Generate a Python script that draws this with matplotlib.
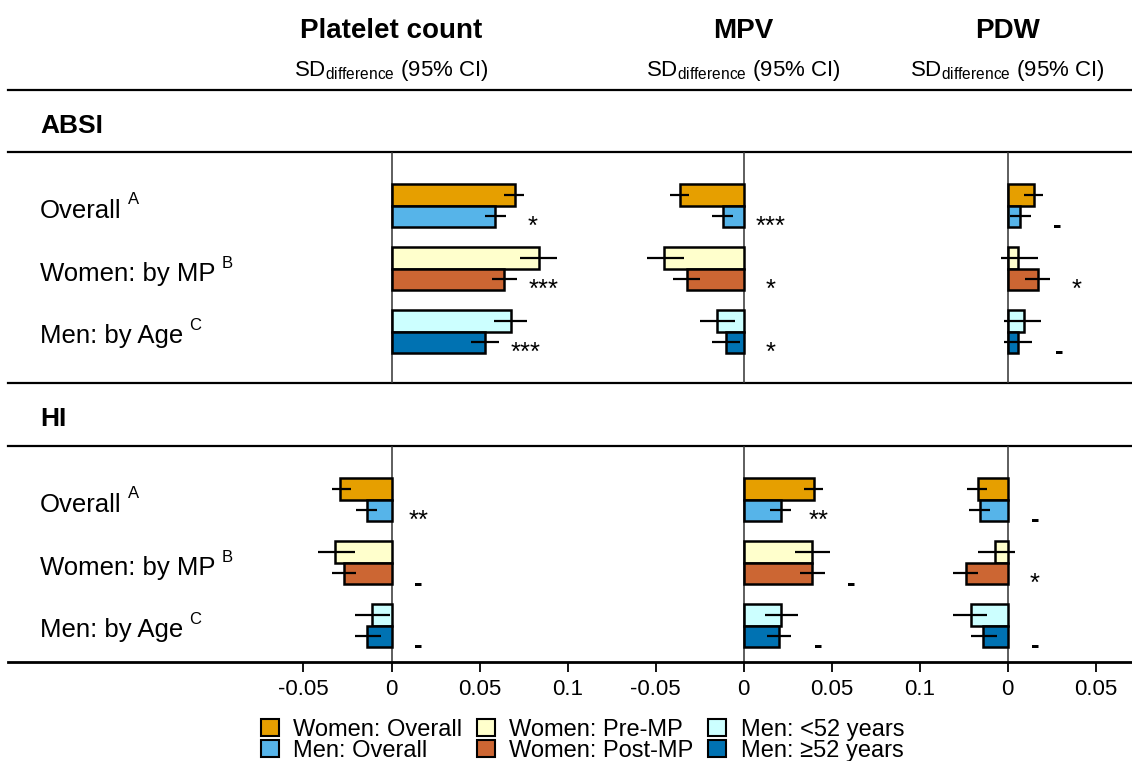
import numpy as np
import matplotlib
matplotlib.use('Agg')
import matplotlib.pyplot as plt
import matplotlib.transforms as mtransforms
from matplotlib.patches import Patch

plt.rcParams['font.family'] = ['Liberation Sans', 'DejaVu Sans']
plt.rcParams['mathtext.fontset'] = 'custom'
plt.rcParams['mathtext.rm'] = 'Liberation Sans'
plt.rcParams['mathtext.it'] = 'Liberation Sans:italic'
plt.rcParams['mathtext.bf'] = 'Liberation Sans:bold'
plt.rcParams['mathtext.default'] = 'rm'

# series, in drawing order (upper bar, lower bar of each group)
series_labels = ['Women: Overall', 'Men: Overall', 'Women: Pre-MP', 'Women: Post-MP',
                 'Men: <52 years', 'Men: \u226552 years']
series_colors = ['#E69F00', '#56B4E9', '#FFFFCC', '#CC6633', '#CCFFFF', '#0072B2']
group_labels = ['Overall', 'Women: by MP', 'Men: by Age']
group_notes = ['A', 'B', 'C']
sections = ['ABSI', 'HI']
outcomes = ['Platelet count', 'MPV', 'PDW']

# ABSI
absi_plt_est = [0.070, 0.059, 0.084, 0.064, 0.068, 0.053]
absi_plt_lo = [0.064, 0.053, 0.073, 0.057, 0.058, 0.045]
absi_plt_hi = [0.075, 0.065, 0.094, 0.071, 0.077, 0.061]
absi_plt_sig = ['*', '***', '***']

absi_mpv_est = [-0.036, -0.012, -0.045, -0.032, -0.015, -0.010]
absi_mpv_lo = [-0.042, -0.018, -0.055, -0.040, -0.025, -0.018]
absi_mpv_hi = [-0.031, -0.006, -0.034, -0.025, -0.005, -0.002]
absi_mpv_sig = ['***', '*', '*']

absi_pdw_est = [0.015, 0.007, 0.006, 0.017, 0.009, 0.006]
absi_pdw_lo = [0.009, 0.001, -0.004, 0.010, -0.002, -0.002]
absi_pdw_hi = [0.020, 0.013, 0.017, 0.024, 0.019, 0.014]
absi_pdw_sig = ['-', '*', '-']

# HI
hi_plt_est = [-0.029, -0.014, -0.032, -0.027, -0.011, -0.014]
hi_plt_lo = [-0.034, -0.020, -0.042, -0.034, -0.021, -0.021]
hi_plt_hi = [-0.023, -0.008, -0.021, -0.020, -0.001, -0.006]
hi_plt_sig = ['**', '-', '-']

hi_mpv_est = [0.040, 0.021, 0.039, 0.039, 0.021, 0.020]
hi_mpv_lo = [0.034, 0.015, 0.029, 0.032, 0.012, 0.013]
hi_mpv_hi = [0.045, 0.027, 0.049, 0.046, 0.031, 0.027]
hi_mpv_sig = ['**', '-', '-']

hi_pdw_est = [-0.017, -0.016, -0.007, -0.024, -0.021, -0.014]
hi_pdw_lo = [-0.023, -0.022, -0.017, -0.031, -0.031, -0.021]
hi_pdw_hi = [-0.012, -0.010, 0.004, -0.017, -0.012, -0.006]
hi_pdw_sig = ['-', '*', '-']

panel_ticks = [[-0.05, 0, 0.05, 0.1], [-0.05, 0, 0.05, 0.1], [0, 0.05]]

table = {
    ('ABSI', 0): (absi_plt_est, absi_plt_lo, absi_plt_hi, absi_plt_sig),
    ('ABSI', 1): (absi_mpv_est, absi_mpv_lo, absi_mpv_hi, absi_mpv_sig),
    ('ABSI', 2): (absi_pdw_est, absi_pdw_lo, absi_pdw_hi, absi_pdw_sig),
    ('HI', 0): (hi_plt_est, hi_plt_lo, hi_plt_hi, hi_plt_sig),
    ('HI', 1): (hi_mpv_est, hi_mpv_lo, hi_mpv_hi, hi_mpv_sig),
    ('HI', 2): (hi_pdw_est, hi_pdw_lo, hi_pdw_hi, hi_pdw_sig),
}

# layout (pixels from the top of the figure, x shift of each panel)
W, H = 1132, 761
offsets = [0.0, 0.2, 0.35]
px_per_unit = 1760.8
zero_px = 391.5
bar_h = 21.3
pitch = 63
section_top = [152, 446]
section_head = [90, 383]
axis_y = 662

fig = plt.figure(figsize=(W / 100, H / 100), dpi=100)
ax = fig.add_axes([0, (H - axis_y) / H, 1, axis_y / H])
ax.set_xlim(-zero_px / px_per_unit, (W - zero_px) / px_per_unit)
ax.set_ylim(axis_y, 0)
for sp in ['top', 'left', 'right']:
    ax.spines[sp].set_visible(False)
ax.spines['bottom'].set_linewidth(2.0)
ax.spines['bottom'].set_bounds((8 - zero_px) / px_per_unit, (W - zero_px) / px_per_unit)
ax.set_yticks([])

tick_pos, tick_lab = [], []
for off, tk in zip(offsets, panel_ticks):
    for t in tk:
        tick_pos.append(off + t)
        tick_lab.append('0' if t == 0 else f'{t:g}')
ax.set_xticks(tick_pos)
ax.set_xticklabels(tick_lab)
ax.tick_params(axis='x', direction='out', length=7, width=1.3, labelsize=16, pad=5)

lx = mtransforms.blended_transform_factory(fig.transFigure, ax.transData)

# rules
for y in [90, 152, 383, 446]:
    ax.axhline(y, xmin=8 / W, xmax=1, color='black', lw=1.6, zorder=1)

# headers
for off, name in zip(offsets, outcomes):
    ax.text(off, 38, name, ha='center', va='baseline', fontsize=20, fontweight='bold')
    ax.text(off, 76, r'SD$_{difference}$ (95% CI)', ha='center', va='baseline', fontsize=16)

for s, sec in enumerate(sections):
    top = section_top[s]
    ax.text(40 / W, section_head[s] + 43, sec, transform=lx, ha='left', va='baseline',
            fontsize=19, fontweight='bold')
    bottom = section_head[1] if s == 0 else axis_y
    centers = top + 53.5 + pitch * np.arange(3)
    for g in range(3):
        base = centers[g] + 12
        lab = ax.text(40 / W, base, group_labels[g], transform=lx, ha='left',
                      va='baseline', fontsize=18.5)
        ax.annotate(group_notes[g], xy=(1, base - 13), xycoords=(lab, 'data'),
                    xytext=(6, 0), textcoords='offset pixels', ha='left',
                    va='baseline', fontsize=12)
    for o, off in enumerate(offsets):
        ax.vlines(off, top, bottom, color='#333333', lw=1.1, zorder=2)
        est, lo, hi, sig = table[(sec, o)]
        for g in range(3):
            for k in range(2):
                i = 2 * g + k
                y = centers[g] + (k - 0.5) * bar_h
                ax.barh(y, est[i], height=bar_h, left=off, color=series_colors[i],
                        edgecolor='black', linewidth=1.8, zorder=3)
                ax.hlines(y, off + lo[i], off + hi[i], color='black', lw=1.6, zorder=4)
            xs = off + max(hi[2 * g + 1], 0) + 27 / px_per_unit
            ax.text(xs, centers[g] + 28, sig[g], ha='center', va='baseline', fontsize=18.5,
                    fontweight='bold' if sig[g] == '-' else 'normal')

handles = [Patch(facecolor=c, edgecolor='black', linewidth=1.5) for c in series_colors]
fig.legend(handles, series_labels, ncol=3, loc='upper left',
           bbox_to_anchor=(261 / W, 1 - 719 / H), frameon=False, fontsize=17,
           handlelength=0.75, handleheight=0.75, handletextpad=0.62,
           columnspacing=0.62, labelspacing=-0.06, borderpad=0, borderaxespad=0)

fig.savefig('out.png', dpi=100)
